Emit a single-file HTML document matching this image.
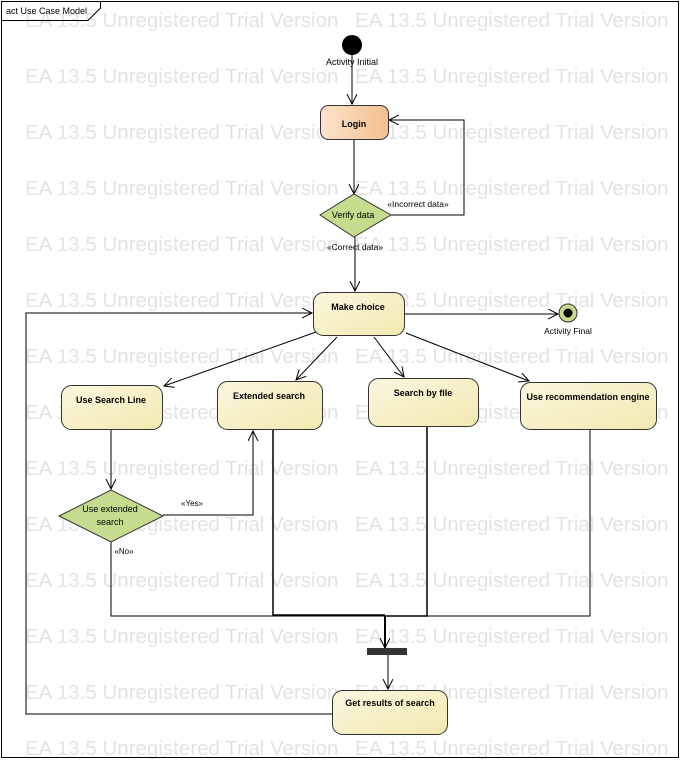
<!DOCTYPE html>
<html><head><meta charset="utf-8"><style>
html,body{margin:0;padding:0;background:#fff}
svg{display:block;font-family:"Liberation Sans",sans-serif}
.wm{font-size:20.5px;fill:#e3e3e3}
.t{font-size:9px;fill:#000;text-anchor:middle}
.b{font-weight:bold}
</style></head><body>
<svg width="681" height="760" viewBox="0 0 681 760" xmlns="http://www.w3.org/2000/svg">
<defs>
<linearGradient id="pe" x1="0" y1="0" x2="1" y2="0"><stop offset="0" stop-color="#fbe3cc"/><stop offset="1" stop-color="#f4c08e"/></linearGradient>
<linearGradient id="ye" x1="0" y1="0" x2="1" y2="1"><stop offset="0" stop-color="#fbf7df"/><stop offset="1" stop-color="#f2e9b0"/></linearGradient>
<marker id="a" markerWidth="12" markerHeight="12" refX="10" refY="5" orient="auto" markerUnits="userSpaceOnUse"><path d="M0,0 L10,5 L0,10" fill="none" stroke="#000" stroke-width="1"/></marker>
</defs>
<g class="wm">
<text x="25" y="27">EA 13.5 Unregistered Trial Version</text><text x="355" y="27">EA 13.5 Unregistered Trial Version</text>
<text x="25" y="83">EA 13.5 Unregistered Trial Version</text><text x="355" y="83">EA 13.5 Unregistered Trial Version</text>
<text x="25" y="139">EA 13.5 Unregistered Trial Version</text><text x="355" y="139">EA 13.5 Unregistered Trial Version</text>
<text x="25" y="195">EA 13.5 Unregistered Trial Version</text><text x="355" y="195">EA 13.5 Unregistered Trial Version</text>
<text x="25" y="251">EA 13.5 Unregistered Trial Version</text><text x="355" y="251">EA 13.5 Unregistered Trial Version</text>
<text x="25" y="307">EA 13.5 Unregistered Trial Version</text><text x="355" y="307">EA 13.5 Unregistered Trial Version</text>
<text x="25" y="363">EA 13.5 Unregistered Trial Version</text><text x="355" y="363">EA 13.5 Unregistered Trial Version</text>
<text x="25" y="419">EA 13.5 Unregistered Trial Version</text><text x="355" y="419">EA 13.5 Unregistered Trial Version</text>
<text x="25" y="475">EA 13.5 Unregistered Trial Version</text><text x="355" y="475">EA 13.5 Unregistered Trial Version</text>
<text x="25" y="531">EA 13.5 Unregistered Trial Version</text><text x="355" y="531">EA 13.5 Unregistered Trial Version</text>
<text x="25" y="587">EA 13.5 Unregistered Trial Version</text><text x="355" y="587">EA 13.5 Unregistered Trial Version</text>
<text x="25" y="643">EA 13.5 Unregistered Trial Version</text><text x="355" y="643">EA 13.5 Unregistered Trial Version</text>
<text x="25" y="699">EA 13.5 Unregistered Trial Version</text><text x="355" y="699">EA 13.5 Unregistered Trial Version</text>
<text x="25" y="755">EA 13.5 Unregistered Trial Version</text><text x="355" y="755">EA 13.5 Unregistered Trial Version</text>
</g>
<rect x="1.5" y="1.5" width="677" height="756" fill="none" stroke="#000"/>
<path d="M1.5,20.5 H88 L100.5,8 V1.5" fill="none" stroke="#000"/>
<text x="6" y="14" style="font-size:9px">act Use Case Model</text>

<g fill="none" stroke="#000" stroke-width="1">
<line x1="352" y1="55" x2="352" y2="104" marker-end="url(#a)"/>
<line x1="354" y1="139" x2="354" y2="194" marker-end="url(#a)"/>
<polyline points="391,215 464,215 464,120 389,120" marker-end="url(#a)"/>
<line x1="355" y1="237" x2="355" y2="291" marker-end="url(#a)"/>
<line x1="404" y1="314" x2="558" y2="314" marker-end="url(#a)"/>
<polyline points="332,714 26,714 26,313 312,313" marker-end="url(#a)"/>
<line x1="316" y1="332" x2="164" y2="386" marker-end="url(#a)"/>
<line x1="337" y1="337" x2="296" y2="380" marker-end="url(#a)"/>
<line x1="374" y1="337" x2="404" y2="377" marker-end="url(#a)"/>
<line x1="406" y1="333" x2="529" y2="381" marker-end="url(#a)"/>
<line x1="111" y1="429" x2="111" y2="489" marker-end="url(#a)"/>
<polyline points="163,515 253,515 253,431" marker-end="url(#a)"/>
<polyline points="111,542 111,616 385,616"/>
<polyline points="273,429 273,615 385,615" stroke-width="1.5"/>
<polyline points="427,426 427,616 385,616" stroke-width="1.5"/>
<polyline points="590,429 590,616 385,616"/>
<line x1="385" y1="616" x2="385" y2="648" stroke-width="2" marker-end="url(#a)"/>
<line x1="388" y1="655" x2="388" y2="689" marker-end="url(#a)"/>
</g>

<circle cx="352" cy="45" r="10" fill="#000"/>
<text class="t" x="352" y="65">Activity Initial</text>

<rect x="320.5" y="105.5" width="68" height="34" rx="8" fill="url(#pe)" stroke="#333"/>
<text class="t b" x="354" y="127">Login</text>

<polygon points="320,215 354,194 391,215 354,237" fill="#c5dc8e" stroke="#333"/>
<text class="t" x="353" y="218">Verify data</text>
<text class="t" x="418" y="207" style="font-size:8.5px">«Incorrect data»</text>
<text class="t" x="355" y="250" style="font-size:8.5px">«Correct data»</text>

<rect x="313.5" y="292.5" width="91" height="43" rx="10" fill="url(#ye)" stroke="#333"/>
<text class="t b" x="358" y="310">Make choice</text>

<circle cx="568" cy="313" r="9" fill="#c5dc8e" stroke="#333"/>
<circle cx="568" cy="313" r="4.5" fill="#000"/>
<text class="t" x="568" y="334" style="font-size:8.5px">Activity Final</text>

<rect x="61.5" y="385.5" width="101" height="44" rx="10" fill="url(#ye)" stroke="#333"/>
<text class="t b" x="111" y="403">Use Search Line</text>
<rect x="217.5" y="381.5" width="105" height="48" rx="10" fill="url(#ye)" stroke="#333"/>
<text class="t b" x="269" y="399">Extended search</text>
<rect x="368.5" y="378.5" width="110" height="48" rx="10" fill="url(#ye)" stroke="#333"/>
<text class="t b" x="423" y="396">Search by file</text>
<rect x="520.5" y="382.5" width="136" height="47" rx="10" fill="url(#ye)" stroke="#333"/>
<text class="t b" x="588" y="400">Use recommendation engine</text>

<polygon points="59,516 111,490 163,516 111,542" fill="#c5dc8e" stroke="#333"/>
<text class="t" x="110" y="512">Use extended</text>
<text class="t" x="110" y="525">search</text>
<text class="t" x="192" y="506" style="font-size:8px">«Yes»</text>
<text class="t" x="124" y="554" style="font-size:8px">«No»</text>

<rect x="367" y="648" width="40" height="7" fill="#333"/>

<rect x="332.5" y="690.5" width="115" height="44" rx="10" fill="url(#ye)" stroke="#333"/>
<text class="t b" x="390" y="706">Get results of search</text>
</svg>
</body></html>
